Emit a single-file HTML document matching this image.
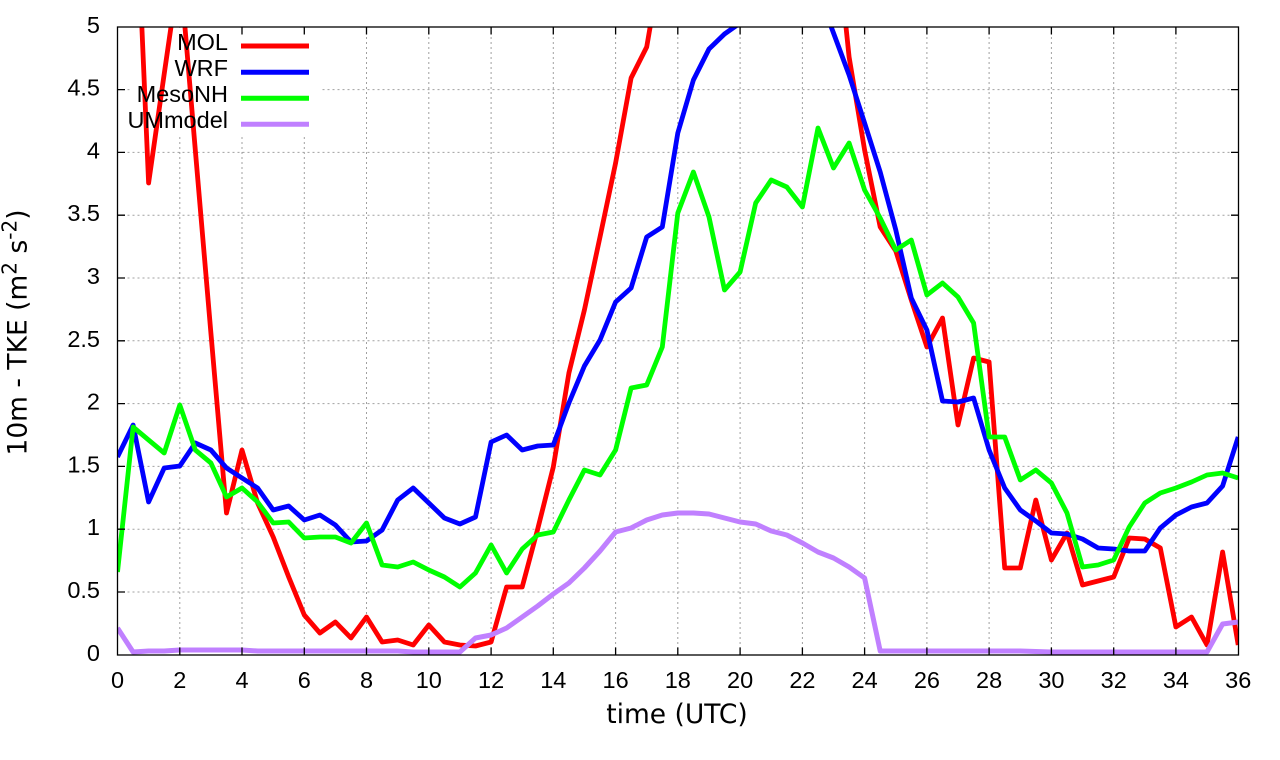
<!DOCTYPE html>
<html><head><meta charset="utf-8"><style>
html,body{margin:0;padding:0;background:#fff;}
svg{display:block;}
.t{font-family:"Liberation Sans",Arial,sans-serif;font-size:23.5px;fill:#000;}
.lab{font-family:"DejaVu Sans","Liberation Sans",sans-serif;font-size:26.5px;fill:#000;}
</style></head><body>
<svg width="1280" height="760" viewBox="0 0 1280 760" xmlns="http://www.w3.org/2000/svg">
<rect x="0" y="0" width="1280" height="760" fill="#fff"/>
<defs><clipPath id="c"><rect x="117.5" y="27" width="1121" height="628"/></clipPath></defs>
<g stroke="#a0a0a0" stroke-width="1" stroke-dasharray="2,3" fill="none">
<path d="M117.5 592.0H1238.5M117.5 529.2H1238.5M117.5 466.4H1238.5M117.5 403.6H1238.5M117.5 340.8H1238.5M117.5 278.0H1238.5M117.5 215.2H1238.5M117.5 152.4H1238.5M117.5 89.6H1238.5"/>
<path d="M179.8 27V655M242.0 27V655M304.3 27V655M366.5 27V655M428.8 27V655M491.1 27V655M553.3 27V655M615.6 27V655M677.8 27V655M740.1 27V655M802.4 27V655M864.6 27V655M926.9 27V655M989.1 27V655M1051.4 27V655M1113.7 27V655M1175.9 27V655"/>
</g>
<rect x="130" y="28" width="192" height="109" fill="#fff"/>
<g clip-path="url(#c)" fill="none" stroke-width="4.8" stroke-linejoin="round">
<polyline stroke="#ff0000" points="117.5,-400 133.1,-176 148.6,183 164.2,74 179.8,-34 195.3,150 210.9,333 226.5,513 242.0,450 257.6,503 273.2,537 288.7,577 304.3,615 319.9,633 335.4,622 351.0,638 366.5,617 382.1,642 397.7,640 413.2,645 428.8,625 444.4,642 459.9,645 475.5,646 491.1,642 506.6,587 522.2,587 537.7,529 553.3,467 568.9,373 584.4,310 600.0,237 615.6,163 631.1,78 646.7,47 662.3,-44 677.8,-500 802.4,-500 818.0,-400 833.5,-94 849.1,57 864.6,150 880.2,227 895.8,251 911.3,300 926.9,347 942.5,318 958.0,425 973.6,358 989.1,362 1004.7,568 1020.3,568 1035.8,500 1051.4,560 1067.0,533 1082.5,585 1098.1,581 1113.7,577 1129.2,538 1144.8,539 1160.3,548 1175.9,627 1191.5,617 1207.0,645 1222.6,552 1238.2,645"/>
<polyline stroke="#0000ff" points="117.5,457 133.1,425 148.6,502 164.2,468 179.8,466 195.3,443 210.9,450 226.5,468 242.0,478 257.6,488 273.2,510 288.7,506 304.3,520 319.9,515 335.4,525 351.0,542 366.5,541 382.1,530 397.7,500 413.2,488 428.8,503 444.4,518 459.9,524 475.5,517 491.1,442 506.6,435 522.2,450 537.7,446 553.3,445 568.9,403 584.4,366 600.0,340 615.6,302 631.1,288 646.7,237 662.3,227 677.8,133 693.4,80 709.0,49 724.5,34 740.1,23 755.7,-20 771.2,-45 786.8,-55 802.4,-45 818.0,-8 833.5,33 849.1,75 864.6,123 880.2,172 895.8,230 911.3,298 926.9,330 942.5,401 958.0,402 973.6,398 989.1,450 1004.7,488 1020.3,510 1035.8,521 1051.4,533 1067.0,534 1082.5,539 1098.1,548 1113.7,549 1129.2,551 1144.8,551 1160.3,528 1175.9,515 1191.5,507 1207.0,503 1222.6,486 1238.2,437"/>
<polyline stroke="#00ff00" points="117.5,572 133.1,427 148.6,440 164.2,453 179.8,405 195.3,450 210.9,463 226.5,497 242.0,488 257.6,502 273.2,523 288.7,522 304.3,538 319.9,537 335.4,537 351.0,543 366.5,523 382.1,565 397.7,567 413.2,562 428.8,570 444.4,577 459.9,587 475.5,573 491.1,545 506.6,573 522.2,549 537.7,535 553.3,532 568.9,500 584.4,470 600.0,475 615.6,450 631.1,388 646.7,385 662.3,347 677.8,213 693.4,172 709.0,217 724.5,290 740.1,272 755.7,203 771.2,180 786.8,187 802.4,207 818.0,128 833.5,168 849.1,143 864.6,190 880.2,218 895.8,250 911.3,240 926.9,295 942.5,283 958.0,297 973.6,323 989.1,437 1004.7,437 1020.3,480 1035.8,470 1051.4,483 1067.0,513 1082.5,567 1098.1,565 1113.7,560 1129.2,527 1144.8,503 1160.3,493 1175.9,488 1191.5,482 1207.0,475 1222.6,473 1238.2,478"/>
<polyline stroke="#c080ff" stroke-width="5" points="117.5,628 133.1,652 148.6,651 164.2,651 179.8,650 195.3,650 210.9,650 226.5,650 242.0,650 257.6,651 273.2,651 288.7,651 304.3,651 319.9,651 335.4,651 351.0,651 366.5,651 382.1,651 397.7,651 413.2,652 428.8,652 444.4,652 459.9,652 475.5,638 491.1,635 506.6,628 522.2,617 537.7,606 553.3,594 568.9,583 584.4,568 600.0,551 615.6,532 631.1,528 646.7,520 662.3,515 677.8,513 693.4,513 709.0,514 724.5,518 740.1,522 755.7,524 771.2,531 786.8,535 802.4,543 818.0,552 833.5,558 849.1,567 864.6,578 880.2,651 895.8,651 1004.7,651 1020.3,651 1051.4,652 1207.0,652 1222.6,624 1238.2,622"/>
</g>
<g stroke-width="5" fill="none">
<line x1="241" y1="46" x2="309" y2="46" stroke="#ff0000"/>
<line x1="241" y1="72.3" x2="309" y2="72.3" stroke="#0000ff"/>
<line x1="241" y1="98.3" x2="309" y2="98.3" stroke="#00ff00"/>
<line x1="241" y1="124.3" x2="309" y2="124.3" stroke="#c080ff"/>
</g>
<g class="t" text-anchor="end">
<text x="228" y="50">MOL</text>
<text x="228" y="76">WRF</text>
<text x="228" y="102">MesoNH</text>
<text x="228" y="128">UMmodel</text>
</g>
<rect x="117.5" y="27" width="1121" height="628" fill="none" stroke="#000" stroke-width="1.3"/>
<g stroke="#000" stroke-width="1.3">
<path d="M117.5 592.0h7.5M117.5 529.2h7.5M117.5 466.4h7.5M117.5 403.6h7.5M117.5 340.8h7.5M117.5 278.0h7.5M117.5 215.2h7.5M117.5 152.4h7.5M117.5 89.6h7.5"/>
<path d="M1238.5 592.0h-7.5M1238.5 529.2h-7.5M1238.5 466.4h-7.5M1238.5 403.6h-7.5M1238.5 340.8h-7.5M1238.5 278.0h-7.5M1238.5 215.2h-7.5M1238.5 152.4h-7.5M1238.5 89.6h-7.5"/>
<path d="M179.8 655v-7.5M242.0 655v-7.5M304.3 655v-7.5M366.5 655v-7.5M428.8 655v-7.5M491.1 655v-7.5M553.3 655v-7.5M615.6 655v-7.5M677.8 655v-7.5M740.1 655v-7.5M802.4 655v-7.5M864.6 655v-7.5M926.9 655v-7.5M989.1 655v-7.5M1051.4 655v-7.5M1113.7 655v-7.5M1175.9 655v-7.5"/>
<path d="M242.0 27v7.5M304.3 27v7.5M366.5 27v7.5M428.8 27v7.5M491.1 27v7.5M553.3 27v7.5M615.6 27v7.5M677.8 27v7.5M740.1 27v7.5M802.4 27v7.5M864.6 27v7.5M926.9 27v7.5M989.1 27v7.5M1051.4 27v7.5M1113.7 27v7.5M1175.9 27v7.5"/>
</g>
<g class="t" text-anchor="end">
<text x="100" y="661">0</text>
<text x="100" y="598">0.5</text>
<text x="100" y="535">1</text>
<text x="100" y="472.5">1.5</text>
<text x="100" y="409.5">2</text>
<text x="100" y="347">2.5</text>
<text x="100" y="284">3</text>
<text x="100" y="221">3.5</text>
<text x="100" y="158.5">4</text>
<text x="100" y="95.5">4.5</text>
<text x="100" y="33">5</text>
</g>
<g class="t" text-anchor="middle">
<text x="117.5" y="688">0</text>
<text x="179.8" y="688">2</text>
<text x="242.0" y="688">4</text>
<text x="304.3" y="688">6</text>
<text x="366.5" y="688">8</text>
<text x="428.8" y="688">10</text>
<text x="491.1" y="688">12</text>
<text x="553.3" y="688">14</text>
<text x="615.6" y="688">16</text>
<text x="677.8" y="688">18</text>
<text x="740.1" y="688">20</text>
<text x="802.4" y="688">22</text>
<text x="864.6" y="688">24</text>
<text x="926.9" y="688">26</text>
<text x="989.1" y="688">28</text>
<text x="1051.4" y="688">30</text>
<text x="1113.7" y="688">32</text>
<text x="1175.9" y="688">34</text>
<text x="1238.2" y="688">36</text>
</g>
<text class="lab" x="677" y="723" text-anchor="middle">time (UTC)</text>
<text class="lab" transform="translate(26.5,332.5) rotate(-90)" text-anchor="middle">10m - TKE (m<tspan dy="-10" font-size="20">2</tspan><tspan dy="10"> s</tspan><tspan dy="-10" font-size="20">-2</tspan><tspan dy="10">)</tspan></text>
</svg>
</body></html>
